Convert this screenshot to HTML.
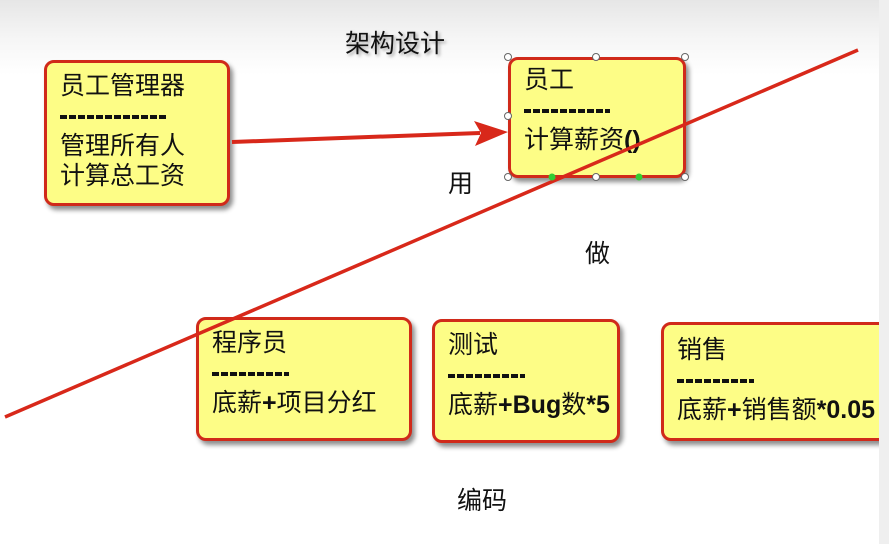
<!DOCTYPE html>
<html><head><meta charset="utf-8"><style>
body{margin:0;width:889px;height:544px;overflow:hidden;position:relative;font-family:"Liberation Sans","Noto Sans CJK SC",sans-serif;background:linear-gradient(#e6e6e6 0px,#f6f6f6 40px,#fff 75px,#fff 100%);}
.b{position:absolute;background:#fdfd86;border:3px solid #d02a1a;border-radius:10px;box-shadow:3px 4px 5px rgba(0,0,0,.45);box-sizing:border-box;font-size:25px;color:#111;line-height:30px;padding:6px 0 0 13px;white-space:nowrap;overflow:hidden}
.t{position:absolute;font-size:25px;color:#111;text-shadow:2px 2px 3px rgba(0,0,0,.35)}
.d{display:inline-block;height:4px;vertical-align:middle;background:repeating-linear-gradient(90deg,#111 0 7px,transparent 7px 9px)}
b{font-weight:bold}
</style></head><body>
<div class="t" style="left:345px;top:24px">架构设计</div>
<div class="b" style="left:44px;top:60px;width:186px;height:146px;padding-top:8px">员工管理器<br><span class="d" style="width:107px"></span><br>管理所有人<br>计算总工资</div>
<div class="b" style="left:508px;top:57px;width:178px;height:121px;padding-top:5px">员工<br><span class="d" style="width:86px"></span><br>计算薪资<b>()</b></div>
<div class="t" style="left:448px;top:164px;text-shadow:none">用</div>
<div class="t" style="left:585px;top:234px;text-shadow:none">做</div>
<div class="b" style="left:196px;top:317px;width:216px;height:124px;padding-top:8px">程序员<br><span class="d" style="width:77px"></span><br>底薪<b>+</b>项目分红</div>
<div class="b" style="left:432px;top:319px;width:188px;height:124px;padding-top:8px">测试<br><span class="d" style="width:77px"></span><br>底薪<b>+Bug</b>数<b>*5</b></div>
<div class="b" style="left:661px;top:322px;width:230px;height:119px;padding-top:10px">销售<br><span class="d" style="width:77px"></span><br>底薪<b>+</b>销售额<b>*0.05</b></div>
<div style="position:absolute;left:879px;top:0;width:10px;height:544px;background:#efefef"></div>
<div class="t" style="left:457px;top:481px;text-shadow:none">编码</div>
<svg width="889" height="544" style="position:absolute;left:0;top:0">
<line x1="232" y1="142" x2="480" y2="133" stroke="#d8281a" stroke-width="4"/>
<polygon points="508,132 474,121 481,133 475,146" fill="#d8281a"/>
<line x1="5" y1="417" x2="858" y2="50" stroke="#d8281a" stroke-width="3.5"/>
<g fill="#fff" stroke="#666" stroke-width="1"><circle cx="508" cy="57" r="3.5"/><circle cx="596" cy="57" r="3.5"/><circle cx="685" cy="57" r="3.5"/><circle cx="508" cy="116" r="3.5"/><circle cx="508" cy="177" r="3.5"/><circle cx="596" cy="177" r="3.5"/><circle cx="685" cy="177" r="3.5"/></g>
<circle cx="552" cy="177" r="3.5" fill="#3c3"/><circle cx="639" cy="177" r="3.5" fill="#3c3"/>
</svg>
</body></html>
